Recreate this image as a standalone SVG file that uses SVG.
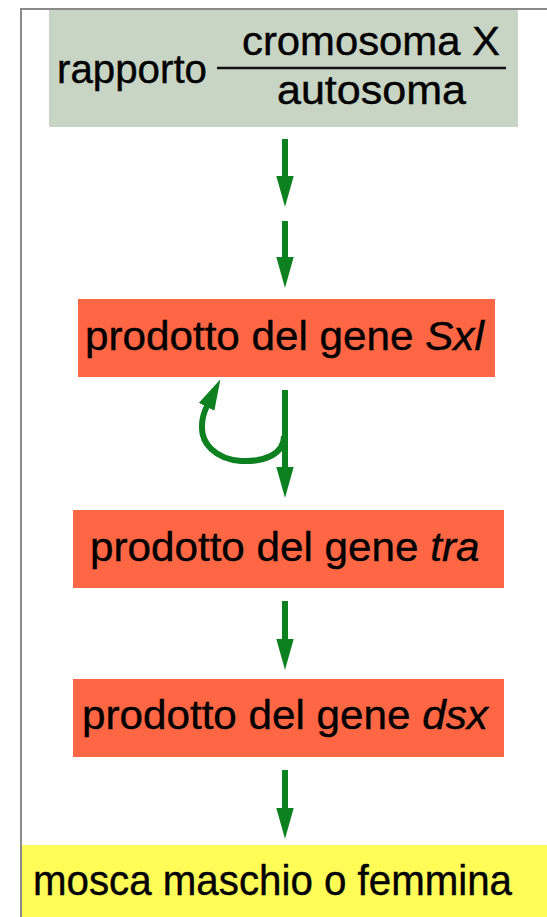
<svg xmlns="http://www.w3.org/2000/svg" width="547" height="917" viewBox="0 0 547 917">
  <style>
    .frame { fill: none; stroke: #8a8a8a; stroke-width: 2; }
    .ratio { fill: #c8d4c4; }
    .gene { fill: #ff6644; }
    .result { fill: #fffc58; }
    .label { font-family: "Liberation Sans", Arial, Helvetica, sans-serif; font-size: 40px; fill: #000; stroke: #000; stroke-width: 0.4; }
    .big { font-size: 42px; }
    .it { font-style: italic; }
    .bar { stroke: #111; stroke-width: 2.5; }
    .flow { fill: none; stroke: #0d8020; stroke-width: 6; }
  </style>
  <defs>
    <marker id="head" viewBox="0 -9 31 18" markerWidth="31" markerHeight="18" refX="1" refY="0" markerUnits="userSpaceOnUse" orient="auto">
      <path d="M0,-8.7 L31,0 L0,8.7 Z" fill="#0d8020"/>
    </marker>
  </defs>

  <rect width="547" height="917" fill="#ffffff"/>
  <path class="frame" d="M21,917 V9 H547"/>

  <g id="ratio">
    <rect class="ratio" x="49" y="10" width="469" height="117"/>
    <text class="label" x="57" y="83" textLength="150" lengthAdjust="spacingAndGlyphs">rapporto</text>
    <text class="label" x="242" y="55" textLength="258" lengthAdjust="spacingAndGlyphs">cromosoma X</text>
    <line class="bar" x1="217" y1="68" x2="506" y2="68"/>
    <text class="label" x="277" y="104" textLength="189" lengthAdjust="spacingAndGlyphs">autosoma</text>
  </g>

  <g id="sxl">
    <rect class="gene" x="78" y="299" width="417" height="78"/>
    <text class="label" transform="matrix(1.055 0 0 1 85 350)">prodotto del gene <tspan class="it">Sxl</tspan></text>
  </g>

  <g id="tra">
    <rect class="gene" x="73" y="510" width="431" height="78"/>
    <text class="label" transform="matrix(1.055 0 0 1 90 561)">prodotto del gene <tspan class="it">tra</tspan></text>
  </g>

  <g id="dsx">
    <rect class="gene" x="73" y="679" width="431" height="78"/>
    <text class="label" transform="matrix(1.055 0 0 1 82 729)">prodotto del gene <tspan class="it">dsx</tspan></text>
  </g>

  <g id="fly">
    <rect class="result" x="22" y="845" width="525" height="72"/>
    <text class="label big" x="33" y="895" textLength="479" lengthAdjust="spacingAndGlyphs">mosca maschio o femmina</text>
  </g>

  <g id="connectors">
    <line class="flow" x1="285" y1="139" x2="285" y2="177" marker-end="url(#head)"/>
    <line class="flow" x1="285" y1="221" x2="285" y2="258" marker-end="url(#head)"/>
    <line class="flow" x1="285" y1="390" x2="285" y2="468" marker-end="url(#head)"/>
    <path class="flow" d="M284,436 C284,455 263,462 241,461 C215,459 201,443 202,426 C202,418 204,412 207,406" marker-end="url(#head)"/>
    <line class="flow" x1="285" y1="601" x2="285" y2="640" marker-end="url(#head)"/>
    <line class="flow" x1="285" y1="770" x2="285" y2="809" marker-end="url(#head)"/>
  </g>
</svg>
